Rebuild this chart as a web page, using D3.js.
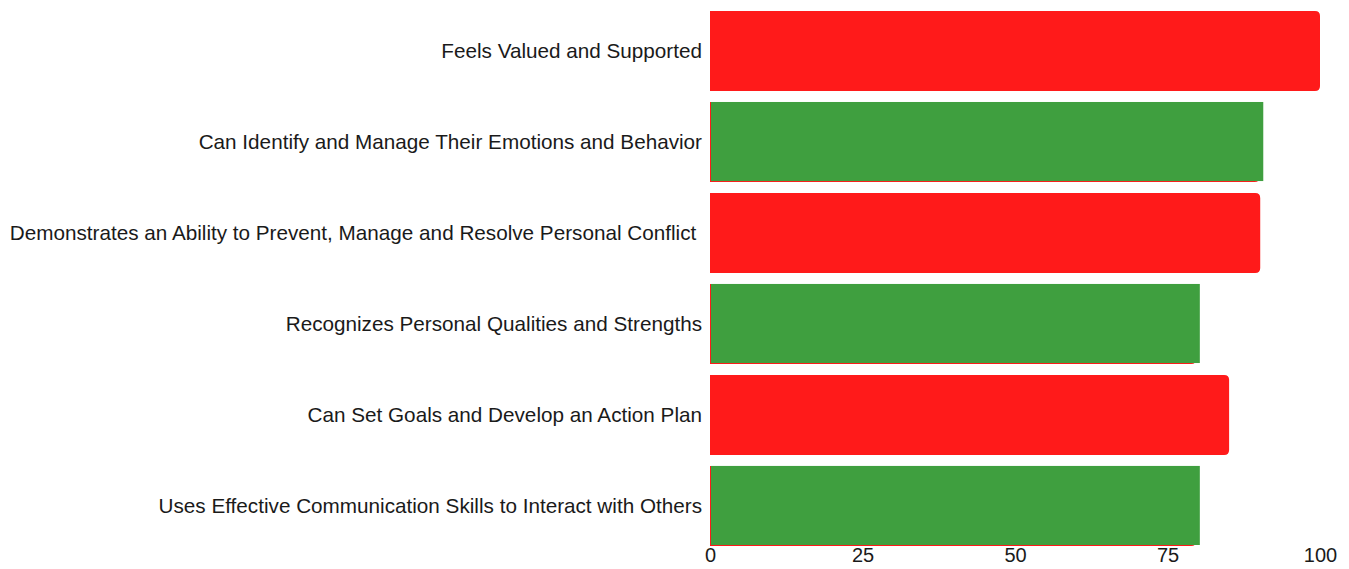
<!DOCTYPE html>
<meta charset="utf-8">
<title>skills bars</title>
<style>
body { margin: 0; background: #fff; }
svg text { font-family: "Liberation Sans", Arial, sans-serif; fill: #1a1a1a; white-space: pre; }
</style>
<script src="https://d3js.org/d3.v7.min.js"></script>
<body>
<script>
var width = 1349, height = 569;

// data
var categories = [
  "Feels Valued and Supported",
  "Can Identify and Manage Their Emotions and Behavior",
  "Demonstrates an Ability to Prevent, Manage and Resolve Personal Conflict ",
  "Recognizes Personal Qualities and Strengths",
  "Can Set Goals and Develop an Action Plan",
  "Uses Effective Communication Skills to Interact with Others"
];
var values = [100, 90.7, 90.2, 80.3, 85.1, 80.3];
var colors = ["red", "green", "red", "green", "red", "green"];
var ticks = [0, 25, 50, 75, 100];

var svg = d3.select("body").append("svg")
    .attr("width", width)
    .attr("height", height);

var x = d3.scaleLinear().domain([0, 100]).range([710, 1320]);
var y = d3.scaleBand().domain(categories).range([11, 546]).paddingInner(0.12).paddingOuter(0);

var fill = { red: "#ff1a1a", green: "#3f9f3f" };

// bar with rounded right corners
function barPath(x0, y0, w, h, r) {
  return "M" + x0 + "," + y0 +
    "H" + (x0 + w - r) +
    "Q" + (x0 + w) + "," + y0 + " " + (x0 + w) + "," + (y0 + r) +
    "V" + (y0 + h - r) +
    "Q" + (x0 + w) + "," + (y0 + h) + " " + (x0 + w - r) + "," + (y0 + h) +
    "H" + x0 + "Z";
}

var rows = categories.map(function(c, i) { return { cat: c, val: values[i], col: colors[i] }; });

// red rounded layer under everything
svg.append("g").selectAll("path")
    .data(rows)
  .enter().append("path")
    .attr("fill", fill.red)
    .attr("d", function(d) {
      var w = x(d.col == "green" ? d.val - 0.6 : d.val) - x(0);
      return barPath(x(0), y(d.cat), w, y.bandwidth(), 5);
    });

// green bars on top
svg.append("g").selectAll("rect")
    .data(rows.filter(function(d) { return d.col == "green"; }))
  .enter().append("rect")
    .attr("x", x(0) + 1)
    .attr("y", function(d) { return y(d.cat); })
    .attr("width", function(d) { return x(d.val) - x(0) - 1; })
    .attr("height", y.bandwidth() - 1)
    .attr("fill", fill.green);

// category labels
svg.append("g").selectAll("text")
    .data(categories)
  .enter().append("text")
    .attr("x", 702)
    .attr("y", function(d) { return y(d) + y.bandwidth() / 2; })
    .attr("dy", "0.35em")
    .attr("text-anchor", "end")
    .style("font-size", "20.7px")
    .text(function(d) { return d; });

// x axis labels
var axis = d3.axisBottom(x).tickValues(ticks).tickSize(0).tickPadding(2);
var g = svg.append("g").attr("transform", "translate(0,546)").call(axis);
g.select(".domain").remove();
g.selectAll("text").style("font-size", "20px").style("font-family", "Liberation Sans, Arial, sans-serif").attr("fill", "#1a1a1a");
</script>
</body>
